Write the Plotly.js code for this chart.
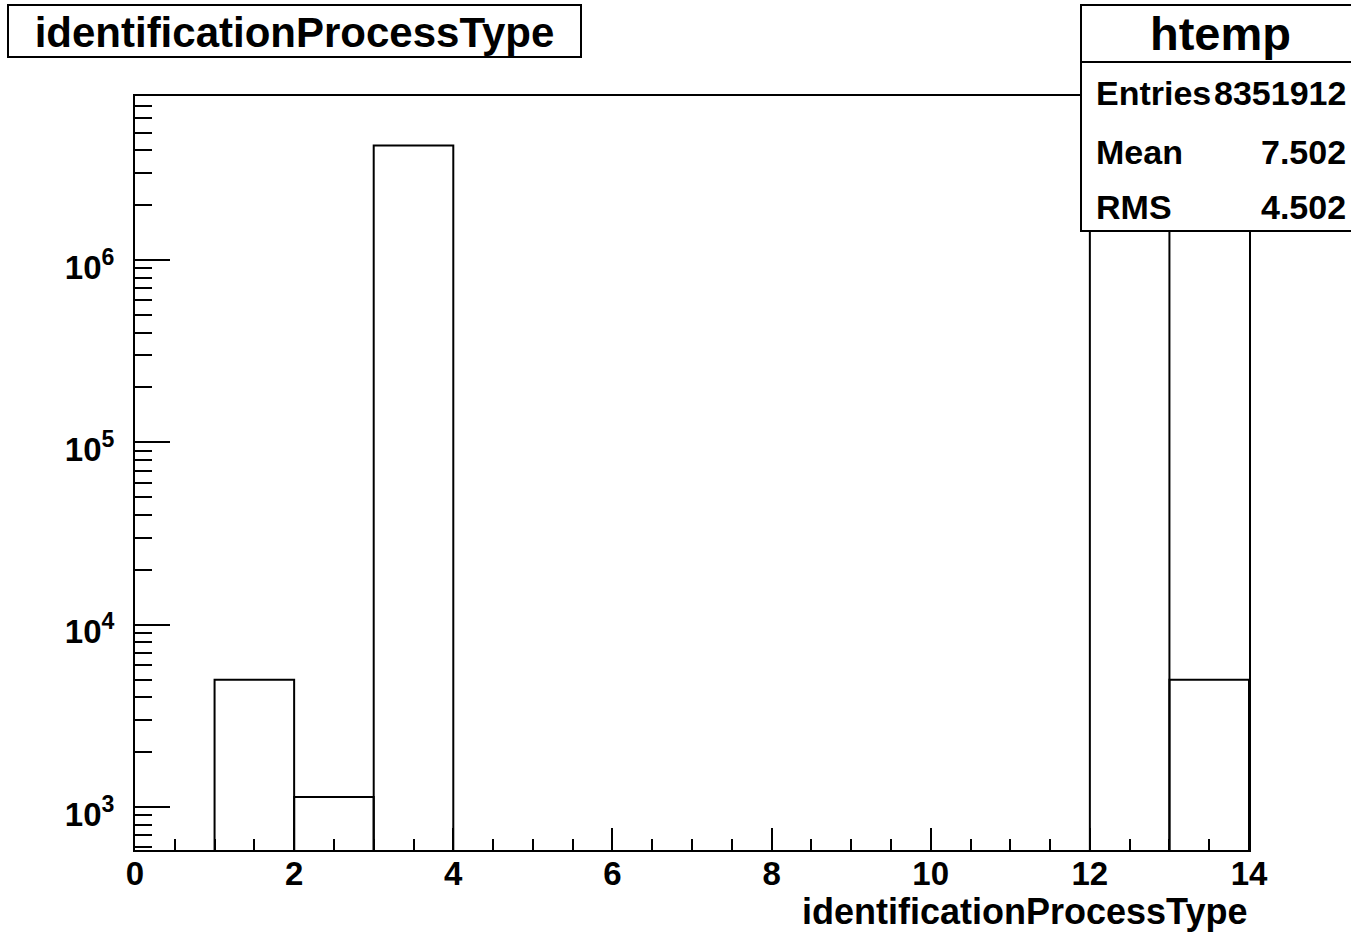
<!DOCTYPE html>
<html>
<head>
<meta charset="utf-8">
<script src="https://cdn.plot.ly/plotly-3.0.1.min.js"></script>
<style>
  html, body { margin: 0; padding: 0; background: #fff; }
  #chart { width: 1351px; height: 932px; }
</style>
</head>
<body>
<div id="chart"></div>
<script>
// ---- data ----
const binLowEdges = [1, 2, 3, 12, 13];
const binWidths   = [1, 1, 1, 1, 1];
const binCounts   = [4980, 1135, 4250000, 4090000, 4980];   // bin 12-13 hidden behind stats box (estimated)

const histName   = "htemp";
const varName    = "identificationProcessType";
const statLabels = ["Entries", "Mean", "RMS"];
const statValues = ["8351912", "7.502", "4.502"];

const xTickVals = [0, 2, 4, 6, 8, 10, 12, 14];
const yTickVals = [1e3, 1e4, 1e5, 1e6];
const yTickText = ["10<sup>3</sup>", "10<sup>4</sup>", "10<sup>5</sup>", "10<sup>6</sup>"];

// ---- layout geometry (pixels of the 1351x932 canvas) ----
const W = 1351, H = 932;
const plotL = 135, plotR = 1249, plotT = 96, plotB = 850;
const pw = plotR - plotL, ph = plotB - plotT;
const px = v => (v - plotL) / pw;
const py = v => (plotB - v) / ph;

const FONT = "Liberation Sans, Arial, Helvetica, sans-serif";
const binCenters = binLowEdges.map((e, i) => e + binWidths[i] / 2);

// minor tick values for log axis: 2..9 x 10^k
const minorY = [];
for (let k = 2; k <= 7; k++) for (let m = 2; m <= 9; m++) minorY.push(m * Math.pow(10, k));

const trace = {
  type: "bar",
  x: binCenters,
  y: binCounts,
  width: binWidths,
  marker: { color: "rgba(0,0,0,0)", line: { color: "#000", width: 2 } },
  hoverinfo: "x+y",
  showlegend: false
};

const statRowsY = [93, 152, 207];
const annotations = [
  { text: histName, xref: "paper", yref: "paper", x: px(1220), y: py(34),
    xanchor: "center", yanchor: "middle", showarrow: false,
    font: { family: FONT, size: 47, weight: "bold", color: "#000" } },
  { text: varName, xref: "paper", yref: "paper", x: px(1249), y: py(911),
    xanchor: "right", yanchor: "middle", showarrow: false,
    font: { family: FONT, size: 36, weight: "bold", color: "#000" } }
];
statLabels.forEach((lab, i) => {
  annotations.push({ text: lab, xref: "paper", yref: "paper", x: px(1094), y: py(statRowsY[i]),
    xanchor: "left", yanchor: "middle", showarrow: false,
    font: { family: FONT, size: 34, weight: "bold", color: "#000" } });
  annotations.push({ text: statValues[i], xref: "paper", yref: "paper", x: px(1348), y: py(statRowsY[i]),
    xanchor: "right", yanchor: "middle", showarrow: false,
    font: { family: FONT, size: 34, weight: "bold", color: "#000" } });
});

const shapes = [
  // title box
  { type: "rect", xref: "paper", yref: "paper", x0: px(8), x1: px(581), y0: py(57), y1: py(5),
    line: { color: "#000", width: 2 }, fillcolor: "#fff", layer: "above" },
  // stats box
  { type: "rect", xref: "paper", yref: "paper", x0: px(1081), x1: px(1360), y0: py(231), y1: py(5),
    line: { color: "#000", width: 2 }, fillcolor: "#fff", layer: "above" },
  { type: "line", xref: "paper", yref: "paper", x0: px(1081), x1: px(1360), y0: py(62), y1: py(62),
    line: { color: "#000", width: 2 }, layer: "above" }
];

const layout = {
  width: W, height: H,
  paper_bgcolor: "#fff", plot_bgcolor: "#fff",
  margin: { l: plotL, r: W - plotR, t: plotT, b: H - plotB, pad: 0 },
  title: { text: varName, x: 294.5 / W, xref: "container", xanchor: "center",
           y: 1 - 32 / H, yref: "container", yanchor: "middle",
           font: { family: FONT, size: 42, weight: "bold", color: "#000" } },
  bargap: 0,
  xaxis: {
    range: [0, 14], tickvals: xTickVals, ticktext: xTickVals.map(String),
    ticks: "inside", ticklen: 22, tickwidth: 2, tickcolor: "#000",
    minor: { dtick: 0.5, tick0: 0, ticks: "inside", ticklen: 11, tickwidth: 2, tickcolor: "#000" },
    showline: true, linecolor: "#000", linewidth: 2, mirror: true,
    showgrid: false, zeroline: false, ticklabelstandoff: -7,
    tickfont: { family: FONT, size: 33, weight: "bold", color: "#000" }
  },
  yaxis: {
    type: "log", range: [2.764, 6.8996], tickvals: yTickVals, ticktext: yTickText,
    ticks: "inside", ticklen: 35, tickwidth: 2, tickcolor: "#000",
    minor: { tickvals: minorY, ticks: "inside", ticklen: 17, tickwidth: 2, tickcolor: "#000" },
    showline: true, linecolor: "#000", linewidth: 2, mirror: true,
    showgrid: false, zeroline: false, ticklabelstandoff: 12, ticklabelshift: 7,
    tickfont: { family: FONT, size: 33, weight: "bold", color: "#000" }
  },
  shapes: shapes,
  annotations: annotations,
  showlegend: false
};

Plotly.newPlot("chart", [trace], layout, { displayModeBar: false, staticPlot: true });
</script>
</body>
</html>
